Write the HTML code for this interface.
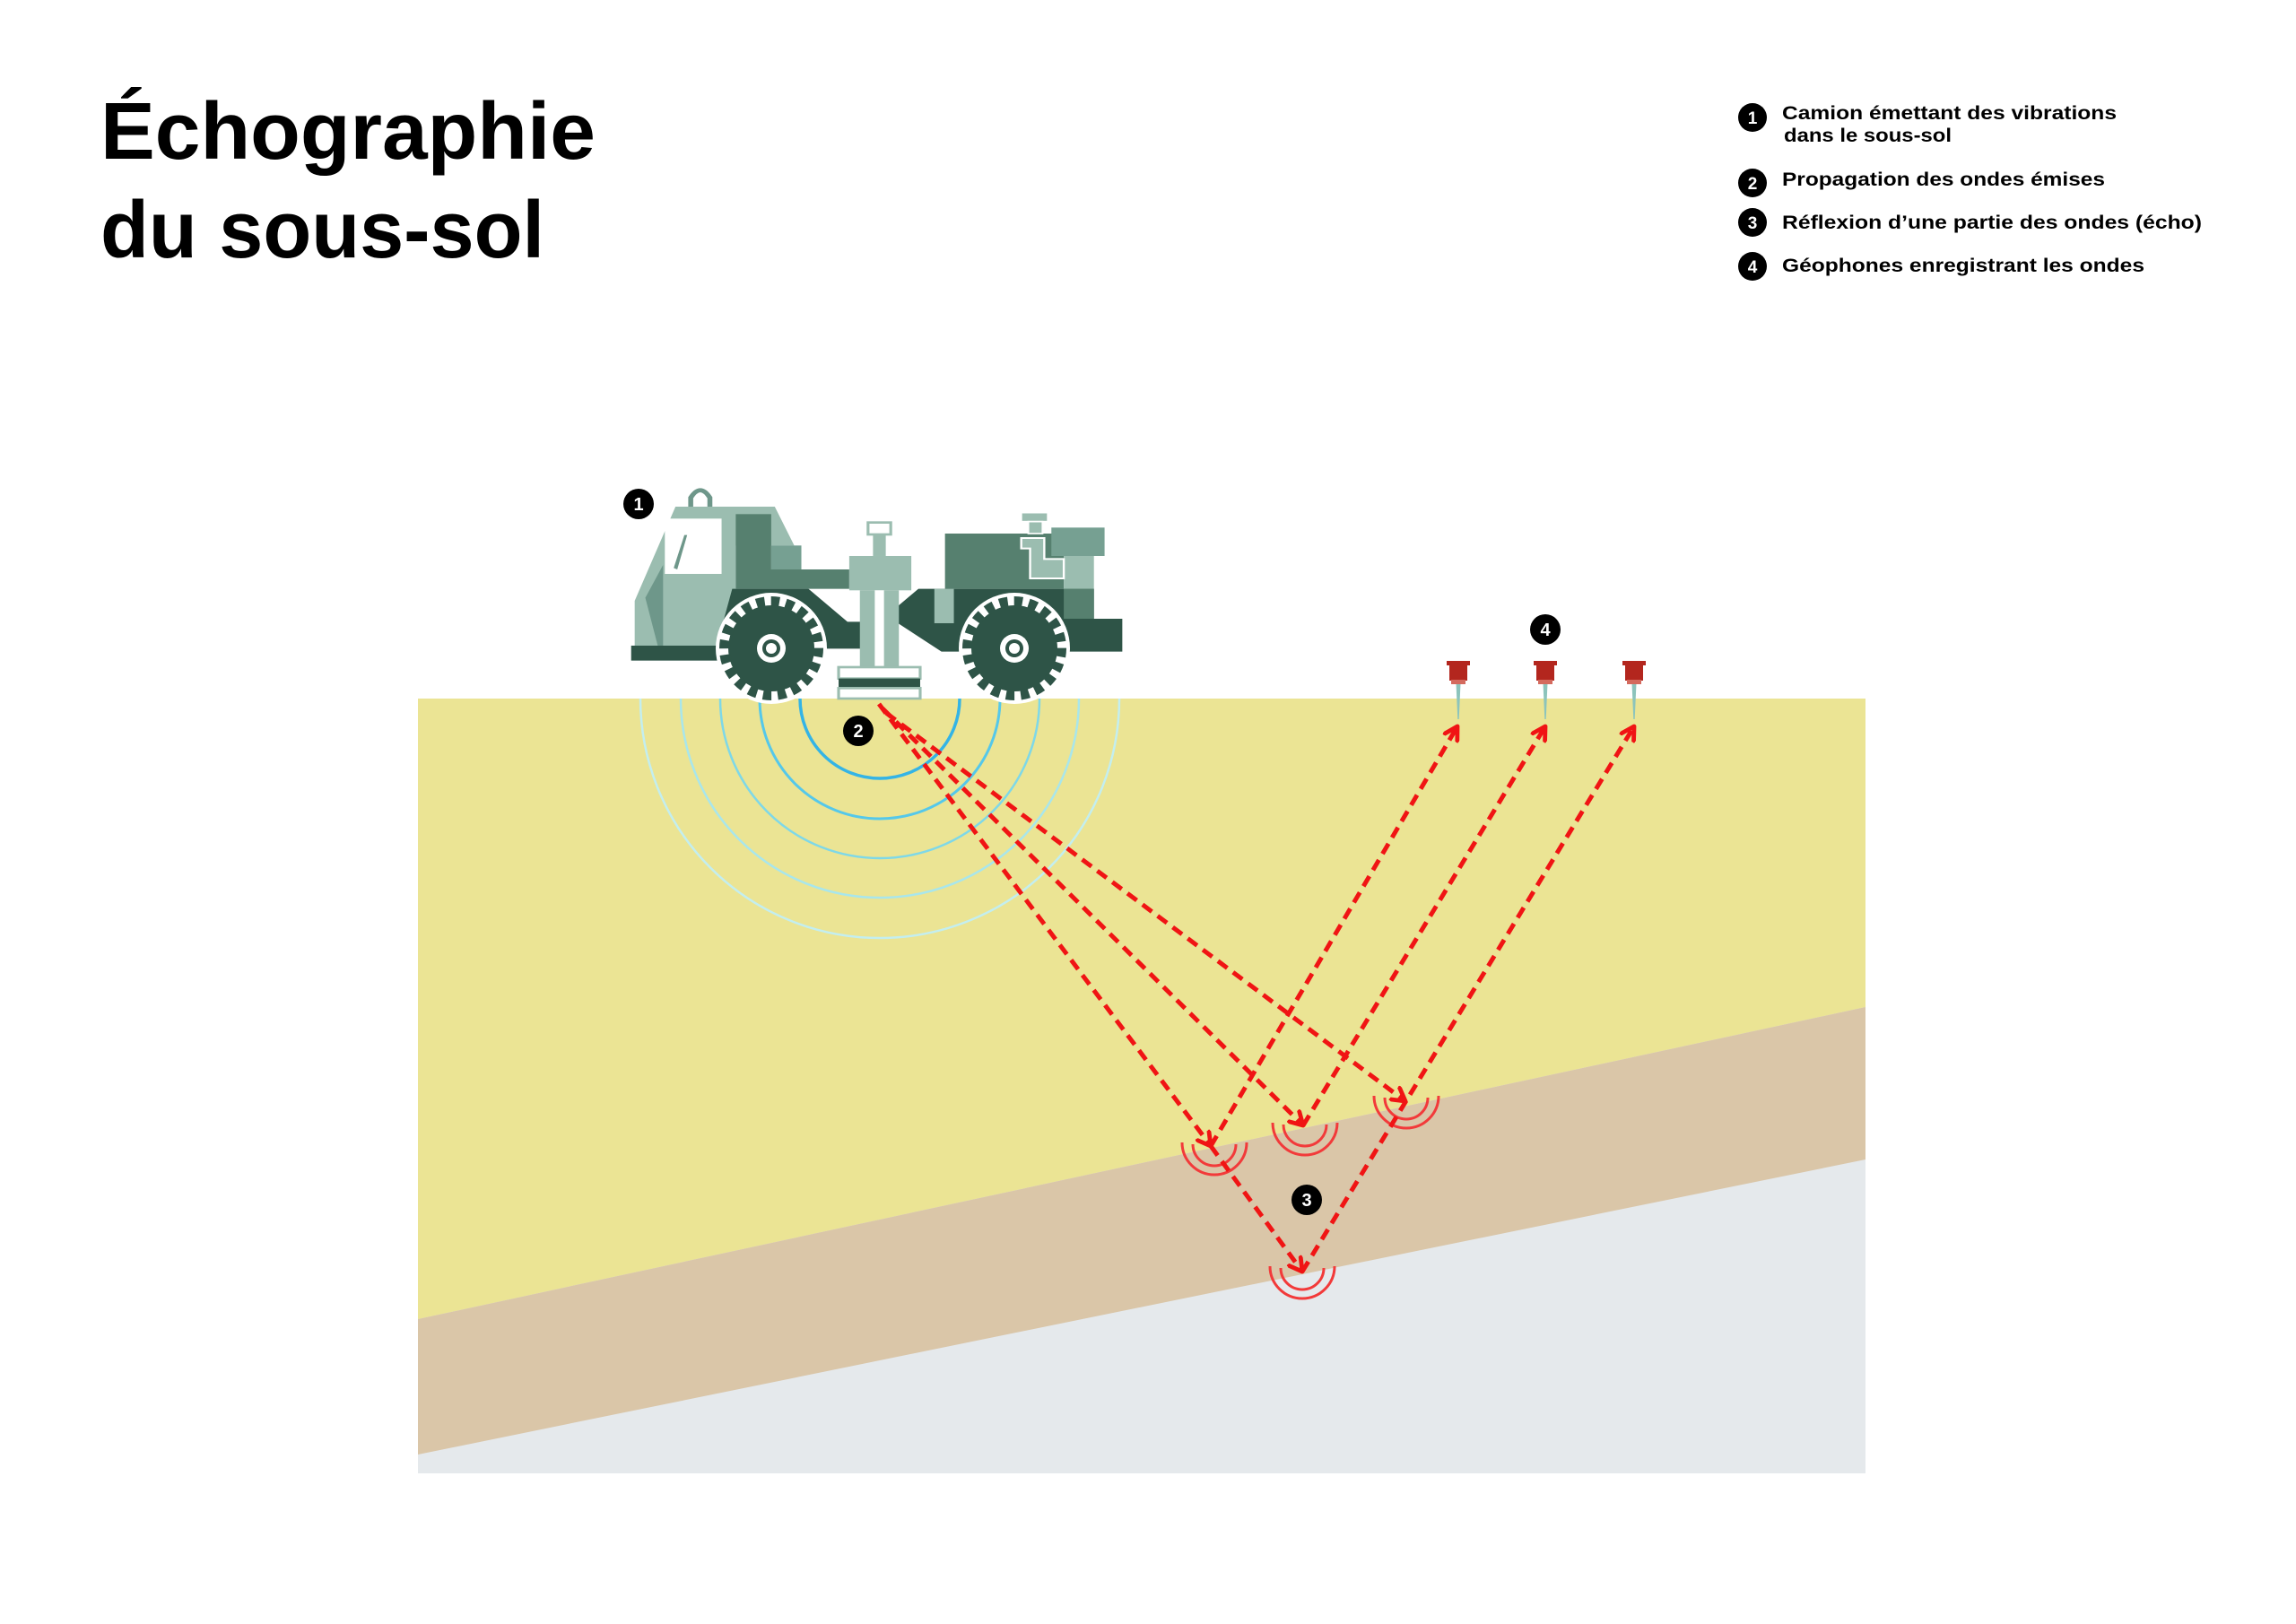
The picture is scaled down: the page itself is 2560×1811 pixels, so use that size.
<!DOCTYPE html>
<html><head><meta charset="utf-8"><style>
html,body{margin:0;padding:0;background:#fff}
svg{display:block}
text{font-family:"Liberation Sans",Arial,sans-serif;font-weight:bold}
</style></head><body>
<svg width="2560" height="1811" viewBox="0 0 2560 1811" xmlns="http://www.w3.org/2000/svg">
<defs>
<marker id="ah" viewBox="0 0 10 10" refX="8" refY="5" markerWidth="4" markerHeight="4" orient="auto" markerUnits="strokeWidth">
<polyline points="1,1 8,5 1,9" fill="none" stroke="#f01414" stroke-width="2.4" stroke-linecap="round" stroke-linejoin="round"/>
</marker>
<clipPath id="gc"><rect x="466" y="779" width="1614" height="864"/></clipPath>
</defs>
<rect width="2560" height="1811" fill="#fff"/>

<!-- title -->
<text x="112" y="177" font-size="90" fill="#000" textLength="552" lengthAdjust="spacingAndGlyphs">Échographie</text>
<text x="112" y="287" font-size="90" fill="#000" textLength="495" lengthAdjust="spacingAndGlyphs">du sous-sol</text>

<!-- legend -->
<g font-size="21" fill="#000">
<circle cx="1954" cy="131" r="16" fill="#000"/><text x="1954" y="138" font-size="19" fill="#fff" text-anchor="middle">1</text>
<text x="1987" y="133" textLength="373" lengthAdjust="spacingAndGlyphs">Camion émettant des vibrations</text>
<text x="1989" y="158" textLength="187" lengthAdjust="spacingAndGlyphs">dans le sous-sol</text>
<circle cx="1954" cy="204" r="16" fill="#000"/><text x="1954" y="211" font-size="19" fill="#fff" text-anchor="middle">2</text>
<text x="1987" y="207" textLength="360" lengthAdjust="spacingAndGlyphs">Propagation des ondes émises</text>
<circle cx="1954" cy="248" r="16" fill="#000"/><text x="1954" y="255" font-size="19" fill="#fff" text-anchor="middle">3</text>
<text x="1987" y="255" textLength="468" lengthAdjust="spacingAndGlyphs">Réflexion d’une partie des ondes (écho)</text>
<circle cx="1954" cy="297" r="16" fill="#000"/><text x="1954" y="304" font-size="19" fill="#fff" text-anchor="middle">4</text>
<text x="1987" y="303" textLength="404" lengthAdjust="spacingAndGlyphs">Géophones enregistrant les ondes</text>
</g>

<!-- ground -->
<rect x="466" y="779" width="1614" height="864" fill="#e5e9ec"/>
<polygon points="466,779 2080,779 2080,1123 466,1471" fill="#ebe494"/>
<polygon points="466,1471 2080,1123 2080,1293 466,1622" fill="#dac6a8"/>

<!-- waves -->
<g clip-path="url(#gc)" fill="none">
<circle cx="981" cy="779" r="267" stroke="#c3eef0" stroke-width="2.5"/>
<circle cx="981" cy="779" r="222" stroke="#a8e6ec" stroke-width="2.5"/>
<circle cx="981" cy="779" r="178" stroke="#7ed8e8" stroke-width="2.5"/>
<circle cx="981" cy="779" r="134" stroke="#55c8ea" stroke-width="3"/>
<circle cx="981" cy="779" r="89" stroke="#34b4e6" stroke-width="3.5"/>
</g>

<!-- reflection arcs -->
<g fill="none" stroke="#f23a3a" stroke-width="3">
<path d="M1330,1276 A24,24 0 1 0 1378,1276"/><path d="M1318,1274 A36,36 0 1 0 1390,1274"/>
<path d="M1431,1254 A24,24 0 1 0 1479,1254"/><path d="M1419,1252 A36,36 0 1 0 1491,1252"/>
<path d="M1544,1224 A24,24 0 1 0 1592,1224"/><path d="M1532,1222 A36,36 0 1 0 1604,1222"/>
<path d="M1428,1414 A24,24 0 1 0 1476,1414"/><path d="M1416,1412 A36,36 0 1 0 1488,1412"/>
</g>

<!-- rays -->
<g fill="none" stroke="#f01414" stroke-width="5" stroke-dasharray="13 8" stroke-linecap="butt">
<line x1="980" y1="785" x2="1350" y2="1278" marker-end="url(#ah)"/>
<line x1="1350" y1="1278" x2="1452" y2="1418" marker-end="url(#ah)"/>
<line x1="984" y1="790" x2="1453" y2="1255" marker-end="url(#ah)"/>
<line x1="988" y1="795" x2="1567" y2="1228" marker-end="url(#ah)"/>
<line x1="1350" y1="1278" x2="1625" y2="810" marker-end="url(#ah)"/>
<line x1="1453" y1="1255" x2="1723" y2="810" marker-end="url(#ah)"/>
<line x1="1452" y1="1418" x2="1822" y2="810" marker-end="url(#ah)"/>
</g>

<!-- geophones -->
<g>
<g transform="translate(1626,0)">
<polygon points="-2.5,762 2.5,762 0.7,802 -0.7,802" fill="#8cc4bc"/>
<rect x="-13" y="737" width="26" height="5" fill="#b3261e"/>
<rect x="-10" y="741" width="20" height="18" fill="#b3261e"/>
<rect x="-8" y="758" width="16" height="5" fill="#d46a5e"/>
</g>
<g transform="translate(1723,0)">
<polygon points="-2.5,762 2.5,762 0.7,802 -0.7,802" fill="#8cc4bc"/>
<rect x="-13" y="737" width="26" height="5" fill="#b3261e"/>
<rect x="-10" y="741" width="20" height="18" fill="#b3261e"/>
<rect x="-8" y="758" width="16" height="5" fill="#d46a5e"/>
</g>
<g transform="translate(1822,0)">
<polygon points="-2.5,762 2.5,762 0.7,802 -0.7,802" fill="#8cc4bc"/>
<rect x="-13" y="737" width="26" height="5" fill="#b3261e"/>
<rect x="-10" y="741" width="20" height="18" fill="#b3261e"/>
<rect x="-8" y="758" width="16" height="5" fill="#d46a5e"/>
</g>
</g>

<!-- truck (zoom coords) -->
<g transform="translate(680,520) scale(0.3954,0.3333)">
<path d="M228,160 L228,105 Q255,55 282,105 L282,160" fill="none" stroke="#6e978a" stroke-width="14"/>
<polygon points="70,605 70,450 185,135 465,135 520,265 355,265 355,605" fill="#9bbdb0"/>
<polygon points="100,440 150,330 150,600 135,600" fill="#6e978a"/>
<rect x="355" y="160" width="100" height="185" fill="#56806f"/>
<rect x="455" y="265" width="85" height="80" fill="#76a092"/>
<rect x="355" y="345" width="320" height="65" fill="#56806f"/>
<rect x="155" y="175" width="160" height="185" fill="#fff"/>
<polygon points="180,340 210,230 218,230 190,345" fill="#6e978a"/>
<polygon points="300,605 345,410 560,410 670,520 760,520 760,610 300,610" fill="#2e5447"/>
<polygon points="780,500 870,410 1365,410 1365,510 1445,510 1445,620 935,620" fill="#2e5447"/>
<rect x="60" y="600" width="250" height="50" fill="#2e5447"/>
<rect x="945" y="225" width="335" height="185" fill="#56806f"/>
<rect x="1245" y="205" width="150" height="95" fill="#76a092"/>
<rect x="1280" y="300" width="85" height="110" fill="#9bbdb0"/>
<rect x="1280" y="410" width="85" height="100" fill="#56806f"/>
<rect x="915" y="410" width="55" height="115" fill="#9bbdb0"/>
<rect x="1160" y="155" width="75" height="30" fill="#9bbdb0" stroke="#fff" stroke-width="5"/>
<rect x="1180" y="185" width="40" height="40" fill="#9bbdb0" stroke="#fff" stroke-width="5"/>
<path d="M1160,240 L1225,240 L1225,310 L1280,310 L1280,375 L1185,375 L1185,275 L1160,275 Z" fill="#9bbdb0" stroke="#fff" stroke-width="6"/>
<rect x="728" y="188" width="64" height="40" fill="#fff" stroke="#9bbdb0" stroke-width="8"/>
<rect x="742" y="228" width="36" height="72" fill="#9bbdb0"/>
<rect x="675" y="300" width="175" height="115" fill="#9bbdb0"/>
<rect x="705" y="415" width="110" height="258" fill="#9bbdb0"/>
<rect x="747" y="415" width="26" height="258" fill="#fff"/>
<rect x="645" y="672" width="230" height="38" fill="#fff" stroke="#9bbdb0" stroke-width="8"/>
<rect x="645" y="710" width="230" height="32" fill="#2e5447"/>
<rect x="645" y="742" width="230" height="35" fill="#fff" stroke="#9bbdb0" stroke-width="8"/>
</g>
<!-- wheels -->
<g>
<circle cx="860" cy="723" r="62" fill="#fff"/>
<circle cx="860" cy="723" r="48" fill="#2e5447"/>
<circle cx="860" cy="723" r="52" fill="none" stroke="#2e5447" stroke-width="12" stroke-dasharray="9.3 7"/>
<circle cx="860" cy="723" r="16" fill="#fff"/>
<circle cx="860" cy="723" r="10" fill="#2e5447"/>
<circle cx="860" cy="723" r="6" fill="#fff"/>
<circle cx="1131" cy="723" r="62" fill="#fff"/>
<circle cx="1131" cy="723" r="48" fill="#2e5447"/>
<circle cx="1131" cy="723" r="52" fill="none" stroke="#2e5447" stroke-width="12" stroke-dasharray="9.3 7"/>
<circle cx="1131" cy="723" r="16" fill="#fff"/>
<circle cx="1131" cy="723" r="10" fill="#2e5447"/>
<circle cx="1131" cy="723" r="6" fill="#fff"/>
</g>

<!-- badges -->
<g font-size="20" fill="#fff" text-anchor="middle">
<circle cx="712" cy="562" r="17" fill="#000"/><text x="712" y="569">1</text>
<circle cx="957" cy="815" r="17" fill="#000"/><text x="957" y="822">2</text>
<circle cx="1457" cy="1338" r="17" fill="#000"/><text x="1457" y="1345">3</text>
<circle cx="1723" cy="702" r="17" fill="#000"/><text x="1723" y="709">4</text>
</g>
</svg>
</body></html>
